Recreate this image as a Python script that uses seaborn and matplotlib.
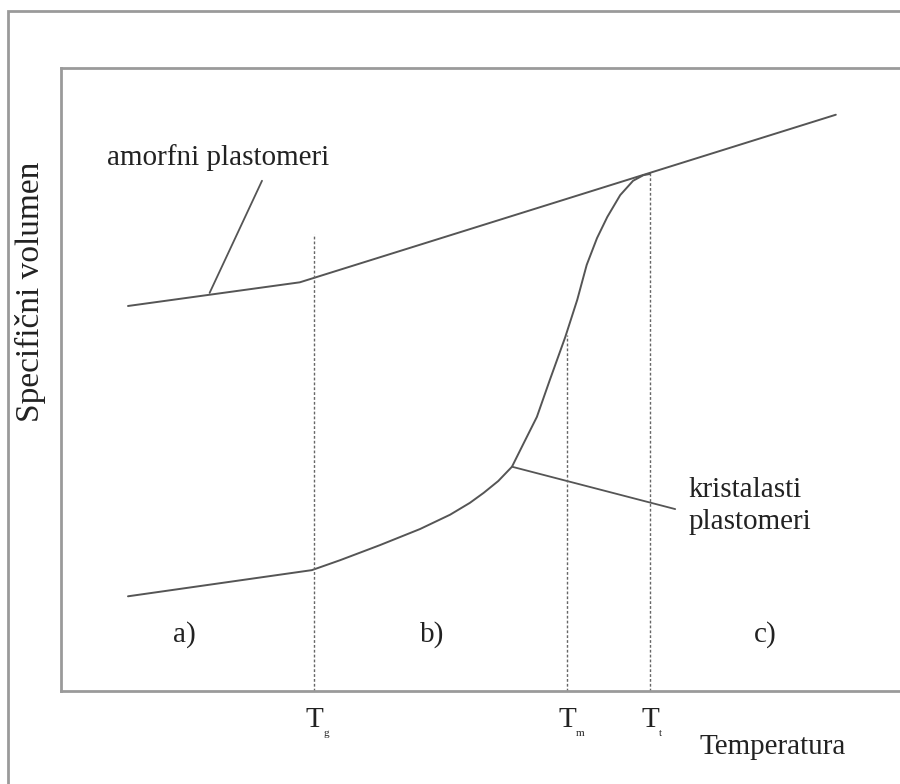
import matplotlib
matplotlib.use('Agg')
import matplotlib.pyplot as plt
import matplotlib.patches as patches
import numpy as np
import pandas as pd
import seaborn as sb

# values (arbitrary units, axes span 0-100 in both directions)
amorf_x = [7.8, 27.8, 90.2]
amorf_y = [61.8, 65.6, 92.5]

krist_x = [7.8, 29.2, 32.5, 37.1, 41.8, 45.3, 47.6, 49.2, 50.9, 52.5, 53.8, 55.4, 56.9,
           58.7, 60.1, 61.2, 62.4, 63.6, 65.1, 66.6, 67.8, 68.6]
krist_y = [15.2, 19.4, 21.0, 23.4, 26.0, 28.3, 30.2, 31.8, 33.7, 36.0, 39.6, 44.0, 49.9,
           56.8, 62.8, 68.4, 72.7, 76.1, 79.6, 81.9, 82.8, 83.0]

# transition temperatures and how high their dashed guides go
temp_names = ['g', 'm', 't']
temp_x = [29.5, 58.9, 68.6]
temp_top = [73.4, 57.1, 83.0]

# pointer lines for the two captions
ptr_amorf_x = [23.4, 17.3]
ptr_amorf_y = [81.9, 63.9]
ptr_krist_x = [52.5, 71.5]
ptr_krist_y = [36.0, 29.2]

regions = ['a)', 'b)', 'c)']
region_x = [14.4, 43.2, 82.0]


sb.set_style('white')
plt.rcParams['font.family'] = ['Liberation Serif', 'DejaVu Serif']

W, H = 900, 784
fig = plt.figure(figsize=(W / 100, H / 100), dpi=100)
fig.patch.set_facecolor('white')

# outer frame (only left and top edges fall inside the picture)
frame = patches.Rectangle((8 / W, -0.1), 2.0, (H - 11) / H + 0.1, transform=fig.transFigure,
                          fill=False, edgecolor='#9a9a9a', linewidth=2)
fig.patches.append(frame)

ax = fig.add_axes([61 / W, (H - 691) / H, 859 / W, 623 / H])
ax.set_xlim(0, 100)
ax.set_ylim(0, 100)
for side in ['left', 'bottom', 'top']:
    ax.spines[side].set_color('#9a9a9a')
    ax.spines[side].set_linewidth(2)
ax.spines['right'].set_visible(False)
ax.set_xticks([])
ax.set_yticks([])

line_col = '#555555'
amorf = pd.DataFrame({'T': amorf_x, 'V': amorf_y})
krist = pd.DataFrame({'T': krist_x, 'V': krist_y})
sb.lineplot(data=amorf, x='T', y='V', sort=False, estimator=None, color=line_col, linewidth=1.4, ax=ax)
sb.lineplot(data=krist, x='T', y='V', sort=False, estimator=None, color=line_col, linewidth=1.4, ax=ax)
ax.plot(ptr_amorf_x, ptr_amorf_y, color=line_col, linewidth=1.3)
ax.plot(ptr_krist_x, ptr_krist_y, color=line_col, linewidth=1.3)

txt_col = '#222222'
for name, x, top in zip(temp_names, temp_x, temp_top):
    ax.plot([x, x], [0, top], color='#666666', linewidth=1, dashes=(2, 1.5))
    ax.annotate('T', xy=(x, 0), xytext=(0, -29), textcoords='offset pixels',
                ha='center', va='center', fontsize=21, color=txt_col, annotation_clip=False)
    ax.annotate(name, xy=(x, 0), xytext=(9, -42), textcoords='offset pixels',
                ha='left', va='center', fontsize=8, color=txt_col, annotation_clip=False)

for lab, x in zip(regions, region_x):
    ax.text(x, 9.0, lab, ha='center', va='center', fontsize=21, color=txt_col)

ax.text(18.3, 85.7, 'amorfni plastomeri', ha='center', va='center', fontsize=21, color=txt_col)
ax.text(73.0, 29.7, 'kristalasti\nplastomeri', ha='left', va='center', fontsize=21,
        color=txt_col, linespacing=1.3)
ax.text(82.8, -9.0, 'Temperatura', ha='center', va='center', fontsize=21, color=txt_col, clip_on=False)
ax.text(-3.6, 64.0, 'Specifični volumen', ha='center', va='center', rotation=90, fontsize=24,
        color=txt_col, clip_on=False)

plt.savefig('out.png', dpi=100)
